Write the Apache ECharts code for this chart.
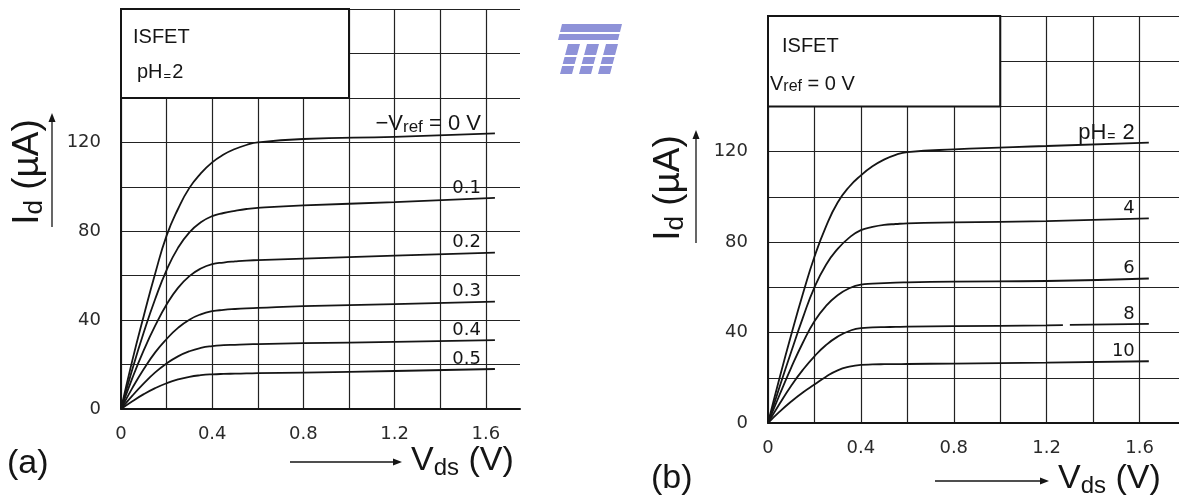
<!doctype html>
<html>
<head>
<meta charset="utf-8">
<title>ISFET Id - Vds</title>
<style>
  html, body { margin: 0; padding: 0; background: #fff; }
  #main { width: 1179px; height: 503px; }
</style>
</head>
<body>
<div id="main"></div>
<script src="https://cdn.jsdelivr.net/npm/echarts@6/dist/echarts.min.js"></script>
<script>
// drain voltage samples (V)
var vds = [0, 0.05, 0.1, 0.15, 0.2, 0.25, 0.3, 0.35, 0.4, 0.45, 0.5, 0.55, 0.6, 0.8, 1.2, 1.64];

// (a) pH = 2, curves for -Vref = 0 ... 0.5 V  (Id in uA)
var idVref00 = [0, 22, 42, 61, 78, 90, 99.5, 106, 111, 114.5, 117, 118.8, 120, 121.5, 122.5, 124];
var idVref01 = [0, 18, 34.5, 49.5, 62.5, 72.5, 79.5, 84, 86.8, 88.2, 89.2, 90, 90.5, 91.6, 93.1, 95];
var idVref02 = [0, 14, 26.5, 37.5, 47, 54.5, 59.8, 63.2, 65.2, 65.9, 66.4, 66.8, 67, 67.7, 69, 70.4];
var idVref03 = [0, 9.5, 18, 25.5, 31.5, 36.5, 40.2, 42.6, 44, 44.6, 45, 45.3, 45.5, 46.3, 47.2, 48.3];
var idVref04 = [0, 6, 11.5, 16.5, 20.5, 23.7, 26, 27.5, 28.3, 28.7, 28.9, 29.1, 29.2, 29.6, 30.2, 31];
var idVref05 = [0, 3.5, 6.7, 9.4, 11.6, 13.3, 14.5, 15.2, 15.6, 15.8, 15.9, 16, 16.1, 16.4, 17.1, 18];
var vrefLabels = ['{t|\u2212V}{s|ref}{t| = 0 V}', '0.1', '0.2', '0.3', '0.4', '0.5'];

// (b) Vref = 0 V, curves for pH 2 ... 10
var idPh2 = [0, 20, 39, 57, 73.5, 87, 97.5, 104.5, 109.5, 113.5, 116.5, 118.6, 119.8, 121, 122.5, 124];
var idPh4 = [0, 16, 31.5, 46.5, 60, 70, 77, 82, 85.3, 86.7, 87.6, 88, 88.3, 88.7, 89.3, 90.5];
var idPh6 = [0, 12.5, 24.5, 35.5, 45, 51.8, 56.5, 59.6, 61.2, 61.6, 61.9, 62.1, 62.2, 62.5, 62.8, 63.9];
var vdsGap = [0, 0.05, 0.1, 0.15, 0.2, 0.25, 0.3, 0.35, 0.4, 0.45, 0.5, 0.55, 0.6, 0.8, 1.2, 1.27, 1.285, 1.3, 1.64];
var idPh8 = [0, 8.5, 16.5, 23.5, 29.5, 34.5, 38.2, 40.7, 42, 42.25, 42.4, 42.5, 42.6, 42.8, 43.2, 43.3, null, 43.4, 43.8];
var idPh10 = [0, 5, 9.5, 13.5, 17, 20.5, 23.3, 24.9, 25.7, 25.9, 26, 26.05, 26.1, 26.3, 26.7, 27.3];
var phLabels = ['{t|pH}{e|=}{t| 2}', '4', '6', '8', '10'];

// legend boxes (corners in data units) and labelled ticks
var boxA = [[0, 140], [1.0, 180]];
var boxB = [[0, 140], [1.0, 180]];
var xTicks = [0, 0.4, 0.8, 1.2, 1.6];
var yTicks = [0, 40, 80, 120];

var TICK_FONT = 'DejaVu Sans';
var TEXT_FONT = 'Liberation Sans';
var INK = '#151515';

var labelRich = {
    t: { fontSize: 22, fontFamily: TEXT_FONT, color: INK, lineHeight: 24 },
    s: { fontSize: 17, fontFamily: TEXT_FONT, color: INK, verticalAlign: 'bottom', lineHeight: 12 },
    e: { fontSize: 14, fontFamily: TEXT_FONT, color: INK, verticalAlign: 'bottom', lineHeight: 14, padding: [0, 1, 0, 1] }
};

function xLabel(v) {
    for (var i = 0; i < xTicks.length; i++) {
        if (Math.abs(xTicks[i] - v) < 1e-6) return String(xTicks[i]);
    }
    return '';
}
function yLabel(v) {
    for (var i = 0; i < yTicks.length; i++) {
        if (Math.abs(yTicks[i] - v) < 1e-6) return String(yTicks[i]);
    }
    return '';
}

function xAxis(gi, max) {
    return {
        type: 'value', gridIndex: gi, min: 0, max: max, interval: 0.2,
        axisLine: { show: true, onZero: false, lineStyle: { color: INK, width: 2 } },
        axisTick: { show: false },
        splitLine: { show: true, showMaxLine: false, lineStyle: { color: '#222', width: 1.2 } },
        axisLabel: {
            formatter: xLabel, margin: 16, showMaxLabel: false,
            fontFamily: TICK_FONT, fontSize: 18, color: '#2a2a2a'
        }
    };
}
function yAxis(gi) {
    return {
        type: 'value', gridIndex: gi, min: 0, max: 180, interval: 20,
        axisLine: { show: true, lineStyle: { color: INK, width: 2 } },
        axisTick: { show: false },
        splitLine: { show: true, lineStyle: { color: '#222', width: 1.2 } },
        axisLabel: {
            formatter: yLabel, margin: 20,
            fontFamily: TICK_FONT, fontSize: 18, color: '#2a2a2a'
        }
    };
}

function curve(gi, xs, ys, label, box) {
    var data = xs.map(function (x, i) { return [x, ys[i] === null ? '-' : ys[i]]; });
    var last = data[data.length - 1];
    var s = {
        type: 'line', xAxisIndex: gi, yAxisIndex: gi,
        data: data, showSymbol: false, smooth: 0.5, silent: true,
        lineStyle: { color: INK, width: 1.8 },
        markPoint: {
            symbol: 'circle', symbolSize: 0, silent: true,
            label: {
                show: true, position: 'left', distance: 14, offset: [0, -10],
                fontFamily: TICK_FONT, fontSize: 18, color: INK, rich: labelRich
            },
            data: [{ coord: last, label: { formatter: label } }]
        }
    };
    if (box) {
        s.markArea = {
            silent: true,
            itemStyle: { color: '#fff', borderColor: INK, borderWidth: 2 },
            label: { show: false },
            data: [[{ coord: box[0] }, { coord: box[1] }]]
        };
    }
    return s;
}

var seriesA = [idVref00, idVref01, idVref02, idVref03, idVref04, idVref05];
var seriesB = [idPh2, idPh4, idPh6, idPh8, idPh10];
var series = [];
seriesA.forEach(function (ys, i) {
    series.push(curve(0, vds, ys, vrefLabels[i], i === 0 ? boxA : null));
});
seriesB.forEach(function (ys, i) {
    series.push(curve(1, i === 3 ? vdsGap : vds, ys, phLabels[i], i === 0 ? boxB : null));
});

var bigRich = {
    m: { fontSize: 34, fontFamily: TEXT_FONT, color: INK, lineHeight: 38 },
    s: { fontSize: 24, fontFamily: TEXT_FONT, color: INK, verticalAlign: 'bottom', lineHeight: 20 }
};
var yRich = {
    m: { fontSize: 37, fontFamily: TEXT_FONT, color: INK, lineHeight: 40 },
    s: { fontSize: 26, fontFamily: TEXT_FONT, color: INK, verticalAlign: 'bottom', lineHeight: 20 }
};
var boxRich = {
    m: { fontSize: 20, fontFamily: TEXT_FONT, color: INK, lineHeight: 22 },
    s: { fontSize: 16, fontFamily: TEXT_FONT, color: INK, verticalAlign: 'bottom', lineHeight: 12 },
    e: { fontSize: 13, fontFamily: TEXT_FONT, color: INK, verticalAlign: 'bottom', lineHeight: 13, padding: [0, 1, 0, 1] }
};

function txt(x, y, text, rich, opts) {
    opts = opts || {};
    return {
        type: 'text', x: x, y: y, z: 100, rotation: opts.rotation || 0, silent: true,
        style: {
            text: text, rich: rich, fill: INK,
            align: opts.align || 'left', verticalAlign: 'middle'
        }
    };
}
function hArrow(x1, x2, y) {
    return [
        { type: 'line', z: 100, silent: true, shape: { x1: x1, y1: y, x2: x2 - 6, y2: y }, style: { stroke: INK, lineWidth: 1.3 } },
        { type: 'polygon', z: 100, silent: true, shape: { points: [[x2, y], [x2 - 9, y - 3.5], [x2 - 9, y + 3.5]] }, style: { fill: INK } }
    ];
}
function vArrow(x, y1, y2) {
    return [
        { type: 'line', z: 100, silent: true, shape: { x1: x, y1: y1, x2: x, y2: y2 + 6 }, style: { stroke: INK, lineWidth: 1.3 } },
        { type: 'polygon', z: 100, silent: true, shape: { points: [[x, y2], [x - 3.5, y2 + 9], [x + 3.5, y2 + 9]] }, style: { fill: INK } }
    ];
}

var logo = '#8e92d8';
var graphic = [
    // faint watermark logo
    { type: 'polygon', silent: true, shape: { points: [[562, 24], [622, 24], [618, 40], [558, 40]] }, style: { fill: logo } },
    { type: 'polygon', silent: true, shape: { points: [[568, 44], [580, 44], [572, 74], [560, 74]] }, style: { fill: logo } },
    { type: 'polygon', silent: true, shape: { points: [[587, 44], [599, 44], [591, 74], [579, 74]] }, style: { fill: logo } },
    { type: 'polygon', silent: true, shape: { points: [[606, 44], [618, 44], [610, 74], [598, 74]] }, style: { fill: logo } },
    { type: 'line', silent: true, shape: { x1: 550, y1: 33, x2: 630, y2: 33 }, style: { stroke: '#fff', lineWidth: 2 } },
    { type: 'line', silent: true, shape: { x1: 550, y1: 56, x2: 630, y2: 56 }, style: { stroke: '#fff', lineWidth: 2 } },
    { type: 'line', silent: true, shape: { x1: 550, y1: 65, x2: 630, y2: 65 }, style: { stroke: '#fff', lineWidth: 2 } },

    // panel (a)
    txt(133, 37, '{m|ISFET}', boxRich),
    txt(137, 72, '{m|pH}{e|=}{m|2}', boxRich),
    txt(28, 172, '{m|I}{s|d}{m| (\u00b5A)}', yRich, { rotation: Math.PI / 2, align: 'center' }),
    txt(411, 461, '{m|V}{s|ds}{m| (V)}', bigRich),
    txt(7, 464, '{m|(a)}', bigRich),

    // panel (b)
    txt(782, 46, '{m|ISFET}', boxRich),
    txt(770, 84, '{m|V}{s|ref}{m| = 0 V}', boxRich),
    txt(669, 188, '{m|I}{s|d}{m| (\u00b5A)}', yRich, { rotation: Math.PI / 2, align: 'center' }),
    txt(1058, 479, '{m|V}{s|ds}{m| (V)}', bigRich),
    txt(651, 479, '{m|(b)}', bigRich)
].concat(vArrow(52, 227, 113), hArrow(290, 402, 462), vArrow(696, 243, 130), hArrow(935, 1049, 481));

var chart = echarts.init(document.getElementById('main'), null, { renderer: 'canvas' });
chart.setOption({
    animation: false,
    backgroundColor: '#fff',
    grid: [
        { left: 121, top: 9, width: 399, height: 400 },
        { left: 768, top: 16, width: 411, height: 407 }
    ],
    xAxis: [xAxis(0, 1.75), xAxis(1, 1.77)],
    yAxis: [yAxis(0), yAxis(1)],
    series: series,
    graphic: graphic
});

window.addEventListener('resize', function () {
    chart.resize();
});
</script>
</body>
</html>
